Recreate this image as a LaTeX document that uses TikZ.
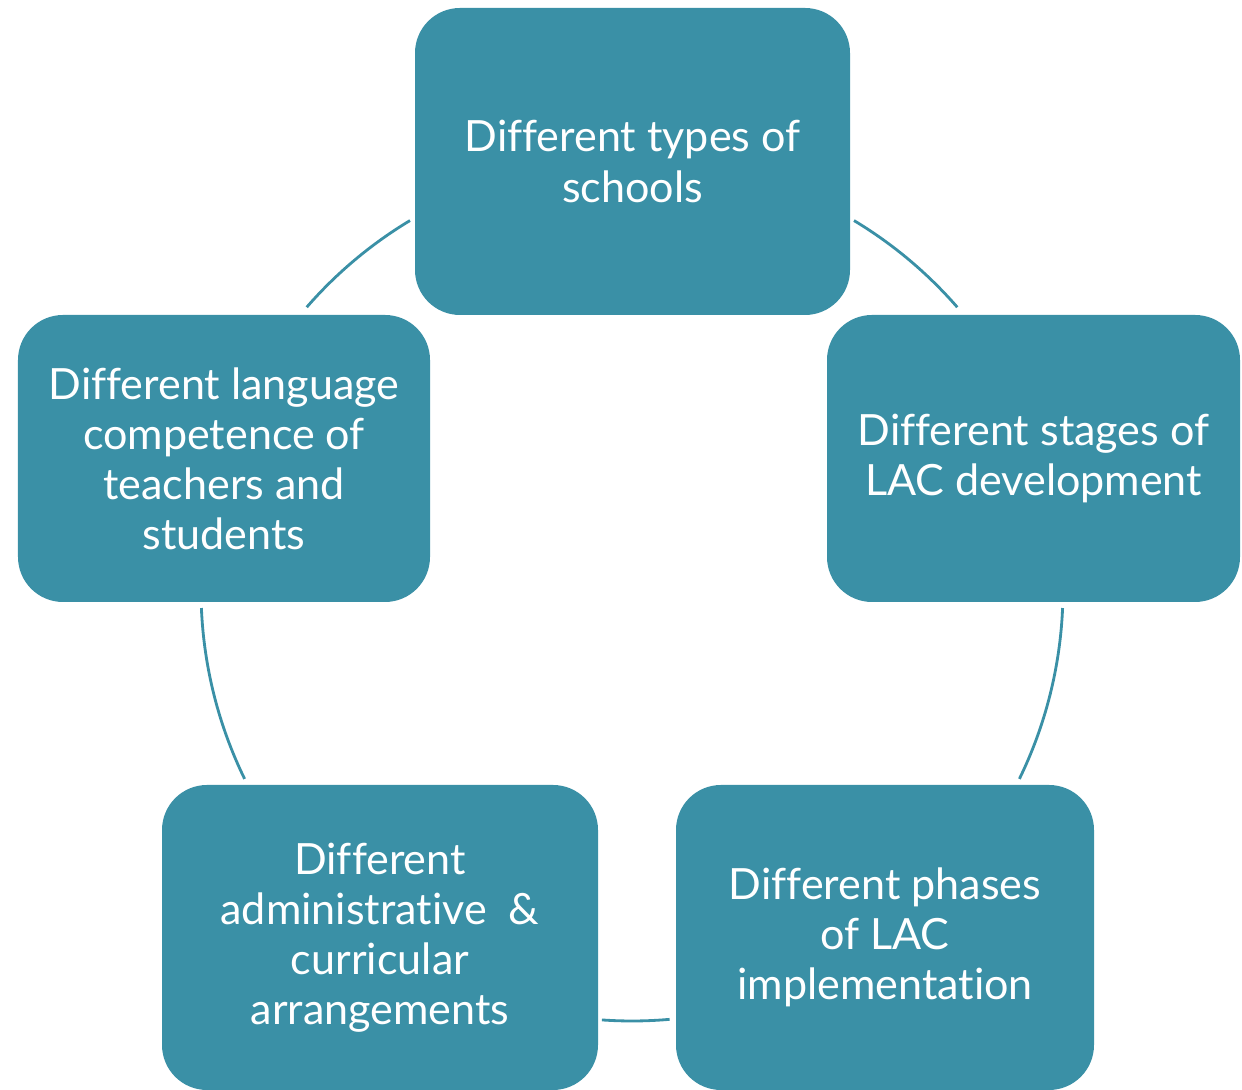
\documentclass[tikz,border=0pt]{standalone}
\usepackage{fontspec}
\setmainfont{Lato}[Ligatures=NoCommon]
\definecolor{lacteal}{HTML}{3A90A6}

\begin{document}
\begin{tikzpicture}[scale=1.0,
  stagebox/.style={fill=lacteal, rounded corners=0.9cm, text=white,
    align=center, inner sep=0pt, font=\fontsize{24.5}{28.5}\selectfont},
  cycleline/.style={draw=lacteal, line width=1.6pt}]
  \useasboundingbox (0,0) rectangle (24.84,21.8);

  % Centre of the cycle
  \coordinate (hub) at (12.64,10.0);

  % Stages of the cycle
  \node[stagebox, minimum width=8.7cm, minimum height=6.14cm] (types) at (12.65,18.57)
    {Different types of\\schools};
  \node[stagebox, minimum width=8.26cm, minimum height=5.74cm] (stages) at (20.67,12.63)
    {Different stages of\\LAC development};
  \node[stagebox, minimum width=8.36cm, minimum height=6.1cm] (phases) at (17.7,3.05)
    {Different phases\\of LAC\\implementation};
  \node[stagebox, minimum width=8.72cm, minimum height=6.1cm] (arrangements) at (7.6,3.05)
    {Different\\administrative~~\&\\curricular\\arrangements};
  \node[stagebox, minimum width=8.24cm, minimum height=5.74cm] (competence) at (4.48,12.63)
    {Different language\\competence of\\teachers and\\students};

  % Arcs of the circle between the stages
  \foreach \a/\b in {121/139, 59/41, -2.4/-26, 182.4/206, -94/-85}
  {
    \draw[cycleline] ([shift={(\a:8.62)}]hub) arc[start angle=\a, end angle=\b, radius=8.62];
  }
\end{tikzpicture}
\end{document}
